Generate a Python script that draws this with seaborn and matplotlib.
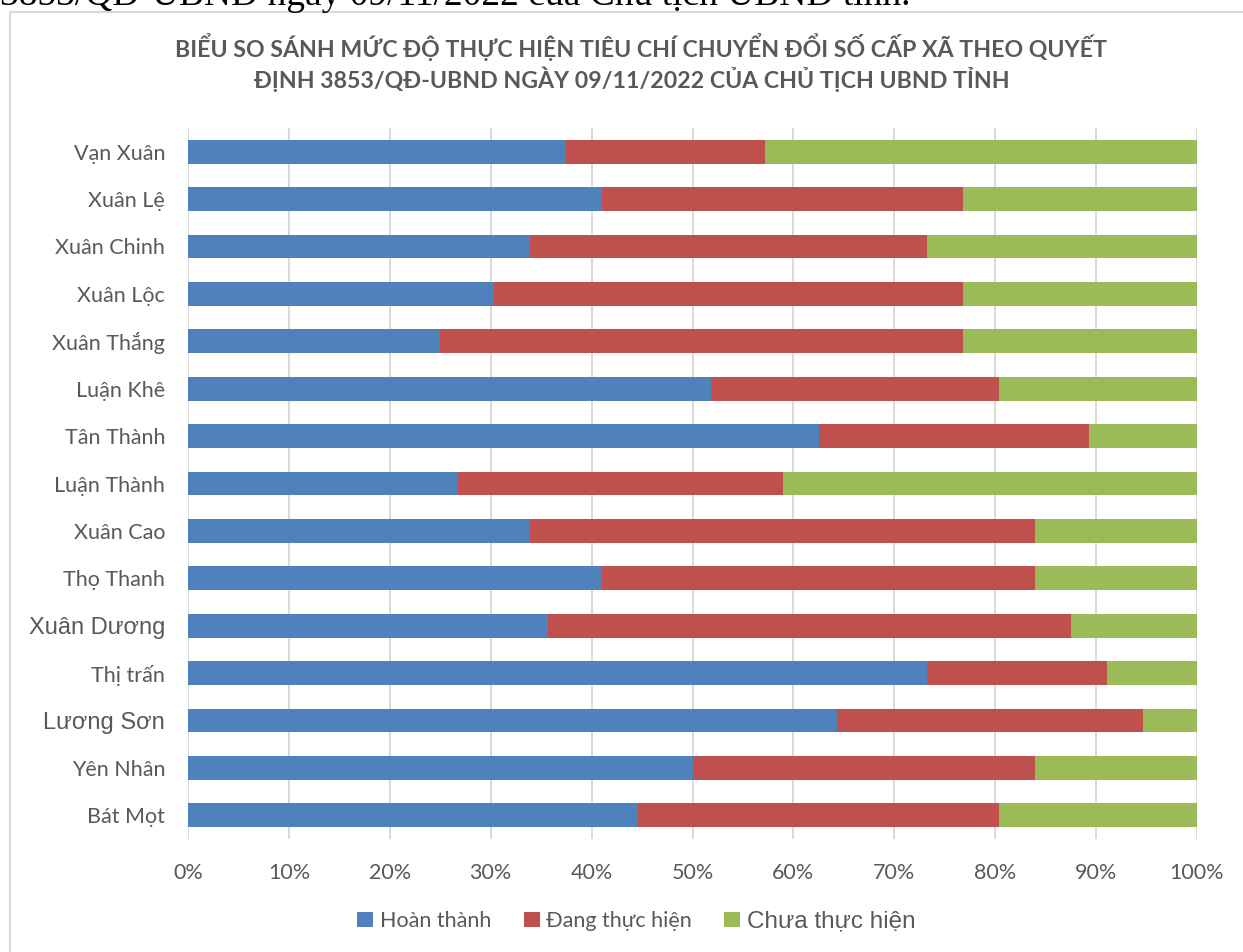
import numpy as np
import pandas as pd
import matplotlib
matplotlib.use("Agg")
import matplotlib.pyplot as plt
import seaborn as sns
from matplotlib.patches import Patch, Rectangle
from matplotlib.ticker import PercentFormatter

# Số tiêu chí theo từng xã (tổng 56 tiêu chí)
xa = ["Vạn Xuân", "Xuân Lệ", "Xuân Chinh", "Xuân Lộc", "Xuân Thắng", "Luận Khê",
      "Tân Thành", "Luận Thành", "Xuân Cao", "Thọ Thanh", "Xuân Dương", "Thị trấn",
      "Lương Sơn", "Yên Nhân", "Bát Mọt"]
hoan_thanh = [21, 23, 19, 17, 14, 29, 35, 15, 19, 23, 20, 41, 36, 28, 25]
dang_thuc_hien = [11, 20, 22, 26, 29, 16, 15, 18, 28, 24, 29, 10, 17, 19, 20]
chua_thuc_hien = [24, 13, 15, 13, 13, 11, 6, 23, 9, 9, 7, 5, 3, 9, 11]
series = ["Hoàn thành", "Đang thực hiện", "Chưa thực hiện"]
colors = ["#4F81BD", "#C0504D", "#9BBB59"]

df = pd.DataFrame({"xa": xa, "ht": hoan_thanh, "dth": dang_thuc_hien, "cth": chua_thuc_hien})
total = df[["ht", "dth", "cth"]].sum(axis=1)
df["p1"] = df["ht"] / total
df["p2"] = (df["ht"] + df["dth"]) / total
df["p3"] = (df["ht"] + df["dth"] + df["cth"]) / total

sns.set_theme(style="white")
plt.rcParams["font.family"] = ["Lato", "DejaVu Sans"]
text_col = "#595959"

fig = plt.figure(figsize=(12.43, 9.52), dpi=100)
ax = fig.add_axes([188 / 1243, 1 - 839 / 952, (1197 - 188) / 1243, (839 - 128) / 952])

# stacked bars: draw cumulative totals back to front
for col, c in zip(["p3", "p2", "p1"], colors[::-1]):
    sns.barplot(data=df, x=col, y="xa", orient="h", color=c, width=0.5,
                saturation=1, edgecolor="none", ax=ax)

ax.set_xlim(0, 1)
ax.set_ylim(14.5, -0.5)
ax.set_xticks(np.arange(0, 1.01, 0.1))
ax.xaxis.set_major_formatter(PercentFormatter(1.0, decimals=0))
ax.set_xlabel("")
ax.set_ylabel("")
ax.xaxis.grid(True, color="#D9D9D9", lw=1.4)
ax.yaxis.grid(False)
ax.set_axisbelow(True)
for s in ax.spines.values():
    s.set_visible(False)
ax.tick_params(axis="x", length=0, pad=17, labelsize=15.5, labelcolor=text_col)
ax.tick_params(axis="y", length=0, pad=16.5, labelsize=15.5, labelcolor=text_col)

for lab in ax.get_yticklabels():
    if lab.get_text() in ("Xuân Dương", "Lương Sơn"):
        lab.set_fontfamily("Liberation Sans")
        lab.set_fontsize(17)

title_font = ["Lato", "DejaVu Sans"]
fig.text(641 / 1243, 1 - 47 / 952, "BIỂU SO SÁNH MỨC ĐỘ THỰC HIỆN TIÊU CHÍ CHUYỂN ĐỔI SỐ CẤP XÃ THEO QUYẾT",
         ha="center", va="center", fontsize=16.7, fontweight="bold", color=text_col,
         family=title_font)
fig.text(632 / 1243, 1 - 79 / 952, "ĐỊNH 3853/QĐ-UBND NGÀY 09/11/2022 CỦA CHỦ TỊCH UBND TỈNH",
         ha="center", va="center", fontsize=16.7, fontweight="bold", color=text_col,
         family=title_font)

# dòng văn bản bị cắt ở phía trên
fig.text(0, 1 - 5 / 952, "3853/QĐ-UBND ngày 09/11/2022 của Chủ tịch UBND tỉnh.",
         ha="left", va="baseline", fontsize=27, color="black",
         family=["Liberation Serif", "DejaVu Serif"])

# khung biểu đồ
fig.patches.append(Rectangle((10 / 1243, -0.1), 2, 1 - 12 / 952 + 0.1, transform=fig.transFigure,
                             fill=False, ec="#D9D9D9", lw=1.5))

handles = [Patch(facecolor=c, edgecolor="none") for c in colors]
leg = fig.legend(handles, series, loc="center", bbox_to_anchor=(0.512, 1 - 921 / 952), ncol=3,
                 frameon=False, handlelength=0.75, handleheight=0.75, handletextpad=0.3,
                 columnspacing=1.5, fontsize=15.5)
for t in leg.get_texts():
    t.set_color(text_col)
leg.get_texts()[2].set_fontfamily("Liberation Sans")
leg.get_texts()[2].set_fontsize(17.5)

fig.savefig("out.png", dpi=100)
